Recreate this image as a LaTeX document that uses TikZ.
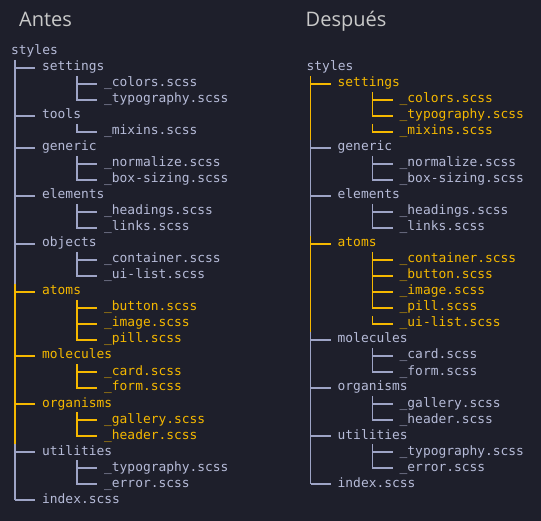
\documentclass[tikz,border=0pt]{standalone}
\usepackage{fontspec}
\setsansfont{Open Sans}
\setmonofont{DejaVu Sans Mono}
\usetikzlibrary{calc}

\definecolor{fondo}{HTML}{1E1F2B}
\definecolor{texto}{HTML}{B6BBD8}
\definecolor{linea}{HTML}{9EA4C6}
\definecolor{amarillo}{HTML}{F5B800}
\definecolor{titulo}{HTML}{C9C9C9}

\begin{document}
\begin{tikzpicture}[x=1pt,y=-1pt,
  item/.style={anchor=base west,inner sep=0pt,text height=9pt,text depth=3pt,
    text=texto,font=\ttfamily\fontsize{12.9}{14}\selectfont},
  itemA/.style={item,text=amarillo},
  rama/.style={draw=linea,line width=1.6pt},
  ramaA/.style={rama,draw=amarillo},
  titulo/.style={anchor=base west,inner sep=0pt,text=titulo,font=\sffamily\fontsize{20}{24}\selectfont}]
  \fill[fondo] (0,0) rectangle (541,521);
  \node[titulo] (antes) at (19,27) {Antes};
  \node[titulo] (despues) at (305.5,27) {Después};

  % antes
  \foreach \c/\t/\s [count=\i from 0] in {0/styles/item,
      4/settings/item,12/\_colors.scss/item,12/\_typography.scss/item,
      4/tools/item,12/\_mixins.scss/item,
      4/generic/item,12/\_normalize.scss/item,12/\_box-sizing.scss/item,
      4/elements/item,12/\_headings.scss/item,12/\_links.scss/item,
      4/objects/item,12/\_container.scss/item,12/\_ui-list.scss/item,
      4/atoms/itemA,12/\_button.scss/itemA,12/\_image.scss/itemA,12/\_pill.scss/itemA,
      4/molecules/itemA,12/\_card.scss/itemA,12/\_form.scss/itemA,
      4/organisms/itemA,12/\_gallery.scss/itemA,12/\_header.scss/itemA,
      4/utilities/item,12/\_typography.scss/item,12/\_error.scss/item,
      4/index.scss/item}
    \node[\s] (a\i) at ({11+7.75*\c},{55+16*\i}) {\t};
  \coordinate (aT) at ([xshift=4pt]a0.west);
  \coordinate (aS) at ([xshift=35pt]a1.west);
  \draw[rama] ([yshift=8pt]aT |- a1) -- ([yshift=-8pt]aT |- a14);
  \draw[ramaA] ([yshift=8pt]aT |- a15) -- ([yshift=-8pt]aT |- a24);
  \draw[rama] ([yshift=8pt]aT |- a25) -- (aT |- a28);
  \foreach \k in {1,4,6,9,12,25,28} \draw[rama] (aT |- a\k) -- ([xshift=-7pt]a\k.west);
  \foreach \k in {15,19,22} \draw[ramaA] (aT |- a\k) -- ([xshift=-7pt]a\k.west);
  \foreach \f/\l in {2/3,5/5,7/8,10/11,13/14,26/27}
    \draw[rama] ([yshift=8pt]aS |- a\f) |- ([xshift=-7pt]a\l.west);
  \foreach \f/\l in {16/18,20/21,23/24}
    \draw[ramaA] ([yshift=8pt]aS |- a\f) |- ([xshift=-7pt]a\l.west);
  \foreach \k in {2,7,10,13,26} \draw[rama] (aS |- a\k) -- ([xshift=-7pt]a\k.west);
  \foreach \k in {16,17,20,23} \draw[ramaA] (aS |- a\k) -- ([xshift=-7pt]a\k.west);

  % despues
  \foreach \c/\t/\s [count=\i from 0] in {0/styles/item,
      4/settings/itemA,12/\_colors.scss/itemA,12/\_typography.scss/itemA,12/\_mixins.scss/itemA,
      4/generic/item,12/\_normalize.scss/item,12/\_box-sizing.scss/item,
      4/elements/item,12/\_headings.scss/item,12/\_links.scss/item,
      4/atoms/itemA,12/\_container.scss/itemA,12/\_button.scss/itemA,12/\_image.scss/itemA,
      12/\_pill.scss/itemA,12/\_ui-list.scss/itemA,
      4/molecules/item,12/\_card.scss/item,12/\_form.scss/item,
      4/organisms/item,12/\_gallery.scss/item,12/\_header.scss/item,
      4/utilities/item,12/\_typography.scss/item,12/\_error.scss/item,
      4/index.scss/item}
    \node[\s] (d\i) at ({306.5+7.75*\c},{71+16*\i}) {\t};
  \coordinate (dT) at ([xshift=4pt]d0.west);
  \coordinate (dS) at ([xshift=35pt]d1.west);
  \draw[ramaA] ([yshift=8pt]dT |- d1) -- ([yshift=-8pt]dT |- d4);
  \draw[rama] ([yshift=8pt]dT |- d5) -- ([yshift=-8pt]dT |- d10);
  \draw[ramaA] ([yshift=8pt]dT |- d11) -- ([yshift=-8pt]dT |- d16);
  \draw[rama] ([yshift=8pt]dT |- d17) -- (dT |- d26);
  \foreach \k in {5,8,17,20,23,26} \draw[rama] (dT |- d\k) -- ([xshift=-7pt]d\k.west);
  \foreach \k in {1,11} \draw[ramaA] (dT |- d\k) -- ([xshift=-7pt]d\k.west);
  \foreach \f/\l in {6/7,9/10,18/19,21/22,24/25}
    \draw[rama] ([yshift=8pt]dS |- d\f) |- ([xshift=-7pt]d\l.west);
  \foreach \f/\l in {2/3,4/4,12/15,16/16}
    \draw[ramaA] ([yshift=8pt]dS |- d\f) |- ([xshift=-7pt]d\l.west);
  \foreach \k in {6,9,18,21,24} \draw[rama] (dS |- d\k) -- ([xshift=-7pt]d\k.west);
  \foreach \k in {2,12,13,14} \draw[ramaA] (dS |- d\k) -- ([xshift=-7pt]d\k.west);
\end{tikzpicture}
\end{document}
